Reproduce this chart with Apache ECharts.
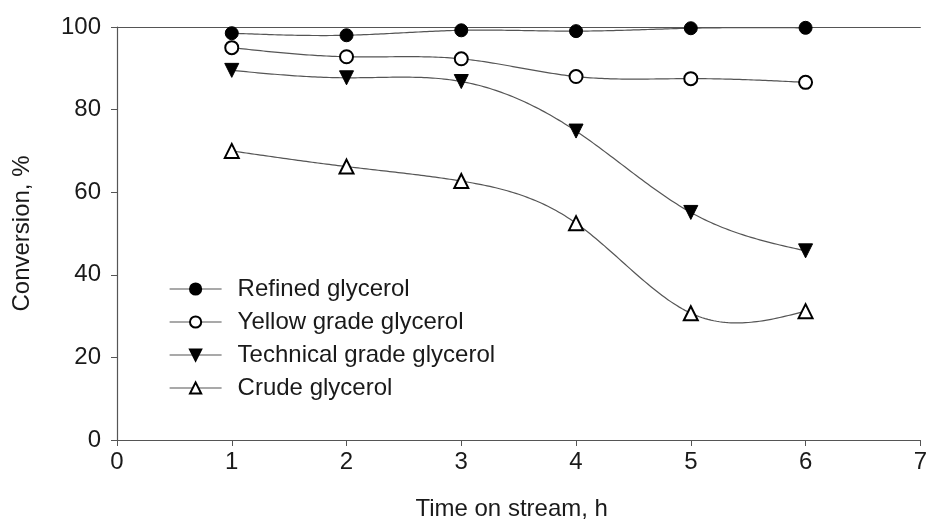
<!DOCTYPE html>
<html>
<head>
<meta charset="utf-8">
<script src="https://cdn.jsdelivr.net/npm/echarts@6/dist/echarts.min.js"></script>
<style>
  html, body { margin: 0; padding: 0; background: #fff; }
  #chart { width: 930px; height: 530px; }
</style>
</head>
<body>
<div id="chart"></div>
<script>
// Glycerol conversion vs. time on stream for four glycerol grades
const hours = [1, 2, 3, 4, 5, 6];
const refined = [98.5, 98.0, 99.2, 99.0, 99.7, 99.8];
const yellowGrade = [95.0, 92.8, 92.3, 88.0, 87.5, 86.6];
const technicalGrade = [89.5, 87.7, 86.8, 74.8, 55.1, 45.8];
const crude = [70.0, 66.2, 62.7, 52.5, 30.7, 31.2];

const xTicks = [0, 1, 2, 3, 4, 5, 6, 7];
const yTicks = [0, 20, 40, 60, 80, 100];

const names = ['Refined glycerol', 'Yellow grade glycerol', 'Technical grade glycerol', 'Crude glycerol'];

const FONT = 'Liberation Sans, Arial, sans-serif';
const INK = '#1a1a1a';
const LINE = '#555';
const FS = 24;

function pairs(values) {
  return hours.map((h, i) => [h, values[i]]);
}

// Natural cubic spline through (xs, ys); returns a function evaluating it.
function naturalSpline(xs, ys) {
  const n = xs.length;
  const h = [];
  for (let i = 0; i < n - 1; i++) h.push(xs[i + 1] - xs[i]);
  const a = new Array(n).fill(0), b = new Array(n).fill(1), c = new Array(n).fill(0), d = new Array(n).fill(0);
  for (let i = 1; i < n - 1; i++) {
    a[i] = h[i - 1];
    b[i] = 2 * (h[i - 1] + h[i]);
    c[i] = h[i];
    d[i] = 6 * ((ys[i + 1] - ys[i]) / h[i] - (ys[i] - ys[i - 1]) / h[i - 1]);
  }
  // Thomas algorithm for the tridiagonal system (M0 = Mn-1 = 0)
  const cp = new Array(n).fill(0), dp = new Array(n).fill(0);
  for (let i = 1; i < n - 1; i++) {
    const m = b[i] - a[i] * cp[i - 1];
    cp[i] = c[i] / m;
    dp[i] = (d[i] - a[i] * dp[i - 1]) / m;
  }
  const M = new Array(n).fill(0);
  for (let i = n - 2; i >= 1; i--) M[i] = dp[i] - cp[i] * M[i + 1];
  return function (x) {
    let i = 0;
    while (i < n - 2 && x > xs[i + 1]) i++;
    const hi = h[i], t1 = xs[i + 1] - x, t0 = x - xs[i];
    return M[i] * t1 * t1 * t1 / (6 * hi) + M[i + 1] * t0 * t0 * t0 / (6 * hi) +
      (ys[i] / hi - M[i] * hi / 6) * t1 + (ys[i + 1] / hi - M[i + 1] * hi / 6) * t0;
  };
}

// Spline curve drawn through the coordinate system of the grid
function curveSeries(values) {
  const f = naturalSpline(hours, values);
  return {
    type: 'custom',
    data: pairs(values),
    encode: { x: 0, y: 1 },
    silent: true,
    z: 2,
    renderItem: function (params, api) {
      if (params.dataIndex !== 0) return null;
      const pts = [];
      const x0 = hours[0], x1 = hours[hours.length - 1];
      const steps = 200;
      for (let k = 0; k <= steps; k++) {
        const x = x0 + (x1 - x0) * k / steps;
        pts.push(api.coord([x, f(x)]));
      }
      return {
        type: 'polyline',
        shape: { points: pts, smooth: 0 },
        style: { stroke: LINE, lineWidth: 1.2, fill: null }
      };
    }
  };
}

function markerSeries(name, values, symbol, rotate) {
  return {
    name: name,
    type: 'line',
    data: pairs(values),
    symbol: symbol,
    symbolSize: symbol.indexOf('ircle') >= 0 ? 13 : 14,
    symbolRotate: rotate || 0,
    showAllSymbol: true,
    lineStyle: { color: LINE, width: 1.2, opacity: 0 },
    itemStyle: { color: '#000', borderColor: '#000', borderWidth: 1 },
    emphasis: { disabled: true },
    z: 3
  };
}

const chart = echarts.init(document.getElementById('chart'), null, { renderer: 'canvas' });

chart.setOption({
  backgroundColor: '#fff',
  animation: false,
  textStyle: { fontFamily: FONT },
  grid: { left: 117, width: 810, top: 27, bottom: 90, containLabel: false },
  legend: {
    orient: 'vertical',
    left: 164,
    top: 272,
    itemWidth: 52,
    itemHeight: 14,
    itemGap: 9,
    selectedMode: false,
    lineStyle: { color: LINE, width: 1.2, opacity: 1 },
    textStyle: { fontFamily: FONT, fontSize: FS, color: INK, lineHeight: 24, padding: [0, 0, 0, 11] },
    data: names
  },
  xAxis: [
    {
      type: 'value',
      min: xTicks[0],
      max: xTicks[xTicks.length - 1],
      interval: 1,
      name: 'Time on stream, h',
      nameLocation: 'middle',
      nameGap: 57,
      nameTextStyle: { fontFamily: FONT, fontSize: FS, color: INK, padding: [0, 14, 0, 0] },
      axisLine: { show: true, onZero: false, lineStyle: { color: LINE, width: 1.2 } },
      axisTick: { show: true, inside: false, length: 6, lineStyle: { color: LINE, width: 1 } },
      axisLabel: { fontFamily: FONT, fontSize: FS, color: INK, margin: 10, showMaxLabel: true },
      splitLine: { show: false }
    },
    {
      type: 'value',
      position: 'top',
      min: xTicks[0],
      max: xTicks[xTicks.length - 1],
      interval: 1,
      axisLine: { show: true, onZero: false, lineStyle: { color: LINE, width: 1.2 } },
      axisTick: { show: false },
      axisLabel: { show: false },
      splitLine: { show: false }
    }
  ],
  yAxis: {
    type: 'value',
    min: yTicks[0],
    max: yTicks[yTicks.length - 1],
    interval: 20,
    name: 'Conversion, %',
    nameLocation: 'middle',
    nameGap: 83,
    nameRotate: 90,
    nameTextStyle: { fontFamily: FONT, fontSize: FS, color: INK },
    axisLine: { show: true, onZero: false, lineStyle: { color: LINE, width: 1.2 } },
    axisTick: { show: true, inside: false, length: 6, lineStyle: { color: LINE, width: 1 } },
    axisLabel: { fontFamily: FONT, fontSize: FS, color: INK, margin: 16 },
    splitLine: { show: false }
  },
  series: [
    curveSeries(refined),
    curveSeries(yellowGrade),
    curveSeries(technicalGrade),
    curveSeries(crude),
    markerSeries(names[0], refined, 'circle'),
    markerSeries(names[1], yellowGrade, 'emptyCircle'),
    markerSeries(names[2], technicalGrade, 'triangle', 180),
    markerSeries(names[3], crude, 'emptyTriangle')
  ]
});
</script>
</body>
</html>
